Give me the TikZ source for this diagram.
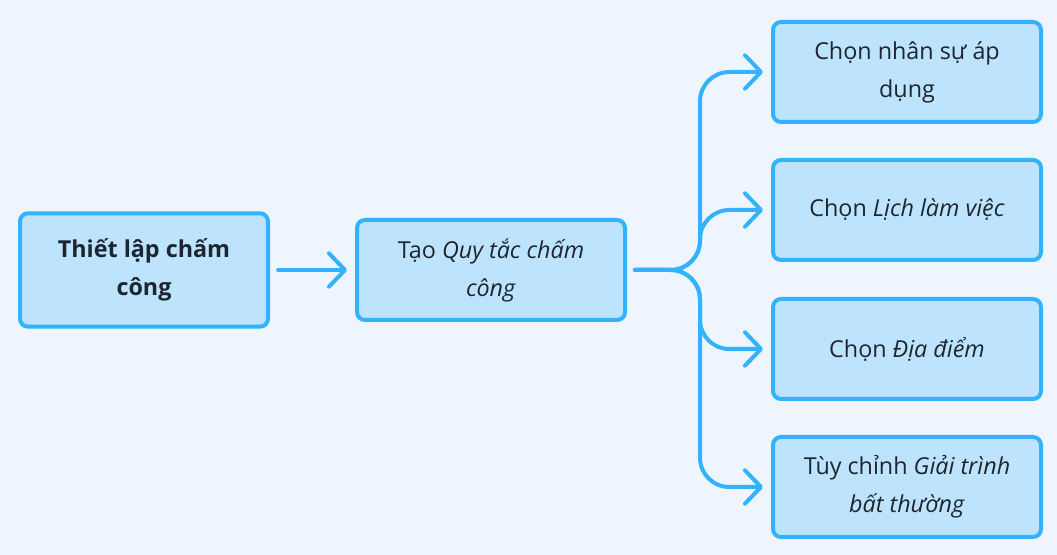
\documentclass[tikz,border=0pt]{standalone}
\usepackage{fontspec}
\setmainfont{Open Sans}
\usetikzlibrary{arrows.meta}
\definecolor{bgcol}{HTML}{EEF5FE}
\definecolor{boxfill}{HTML}{BEE3FC}
\definecolor{boxline}{HTML}{33B3FF}
\definecolor{txtcol}{HTML}{1C2530}
\def\trunkx{700}
\begin{document}
\begin{tikzpicture}[x=0.75pt,y=-0.75pt]
    \tikzstyle{box}=[draw=boxline,fill=boxfill,line width=3pt,rounded corners=6pt,
        minimum width=186pt,minimum height=75pt,align=center,text=txtcol,
        font=\fontsize{17.5}{28.5}\selectfont]
    \tikzstyle{link}=[draw=boxline,line width=3pt,line cap=round,rounded corners=22pt,
        -{Straight Barb[length=12pt,width=25pt,round]},shorten <=6pt,shorten >=6pt]

    % background and margins
    \fill[bgcol] (0,0) rectangle (1057,555);

    % Left nodes
    \node[box,minimum height=85pt] (setup) at (144,270) {\textbf{Thiết lập chấm}\\\textbf{công}};
    \node[box,minimum width=201pt] (rule) at (491,270) {Tạo \textit{Quy tắc chấm}\\\textit{công}};

    % Right nodes
    \node[box,minimum width=201pt] (O-1) at (907,72) {Chọn nhân sự áp\\dụng};
    \node[box,minimum width=201pt] (O-2) at (907,210) {Chọn \textit{Lịch làm việc}};
    \node[box,minimum width=201pt] (O-3) at (907,349) {Chọn \textit{Địa điểm}};
    \node[box,minimum width=201pt] (O-4) at (907,487) {Tùy chỉnh \textit{Giải trình}\\\textit{bất thường}};

    % Connect setup with rule.
    \draw[link] (setup.east) -- (rule.west);

    % Fan out to the right nodes.
    \coordinate (trunk) at (\trunkx,270);
    \foreach \dest in {1,...,4}
        \draw[link] (rule.east) -| (trunk |- O-\dest.west) -- (O-\dest.west);
\end{tikzpicture}
\end{document}
